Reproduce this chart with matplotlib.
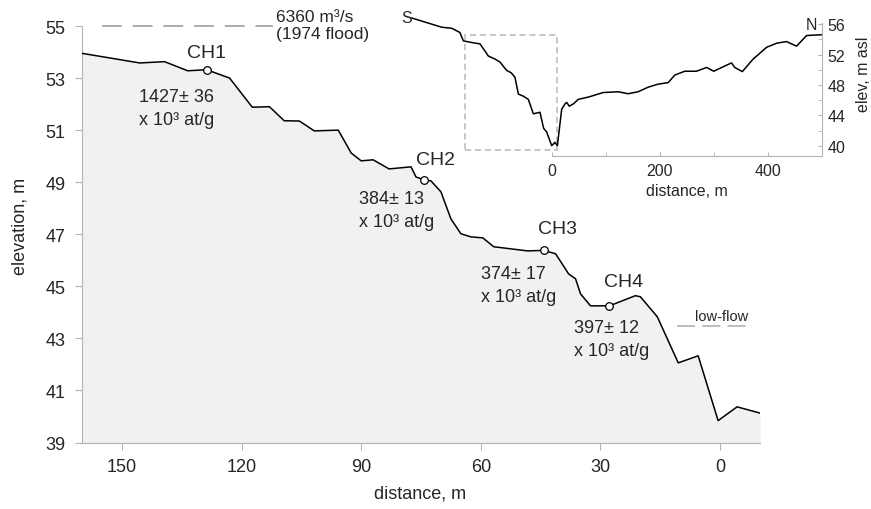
import numpy as np
import matplotlib
matplotlib.use('Agg')
import matplotlib.pyplot as plt
from matplotlib.patches import Rectangle

plt.rcParams.update({'font.family': 'Liberation Sans'})
plt.rcParams.update({'mathtext.fontset': 'custom'})
plt.rcParams.update({'mathtext.rm': 'Liberation Sans'})
plt.rcParams.update({'mathtext.it': 'Liberation Sans:italic'})

# main profile (distance from thalweg, m ; elevation, m)
dist_main = [160, 145.5, 139.3, 133.5, 128.75, 123, 117.3, 113, 109.3, 105.5, 101.75, 95.75,
             92.5, 90, 87, 83, 77.5, 76.25, 74.25, 72.5, 70, 67.5, 65, 62.5, 59.5, 56.75,
             52.5, 48.25, 44.25, 41.25, 38, 36.25, 35, 32.5, 27.75, 21.25, 20, 15.75, 10.5,
             5.5, 0.5, -4.25, -10]
elev_main = [53.95, 53.58, 53.63, 53.28, 53.32, 53.0, 51.88, 51.9, 51.36, 51.35, 50.97, 51.0,
             50.12, 49.82, 49.86, 49.51, 49.59, 49.2, 49.09, 49.05, 48.63, 47.59, 47.02, 46.9,
             46.86, 46.52, 46.44, 46.36, 46.38, 46.25, 45.48, 45.29, 44.71, 44.25, 44.25,
             44.64, 44.6, 43.83, 42.06, 42.33, 39.84, 40.37, 40.13]

# sample sites
ch_names = ['CH1', 'CH2', 'CH3', 'CH4']
ch_dist = [128.75, 74.25, 44.25, 27.75]
ch_elev = [53.32, 49.09, 46.38, 44.25]
ch_conc = [1427, 384, 374, 397]
ch_err = [36, 13, 17, 12]

flood_level = 55.0
lowflow_level = 43.47

# full cross section (inset)
dist_xs = [-259, -204, -185, -170, -163.6, -150, -132.8, -125, -117.3, -105, -95.7, -83.3, -75,
           -68, -61.8, -52, -43.3, -34, -21.7, -15, -9.3, 0, 6, 10.5, 18.5, 24.6, 27.7, 32.6,
           40, 49.3, 67.8, 95.5, 123, 141.6, 160, 178.6, 197, 215.6, 228, 246.5, 268, 287,
           300, 333, 339, 353, 373, 398, 417, 435, 453.5, 472, 499]
elev_xs = [56.8, 55.6, 55.45, 54.9, 53.8, 53.6, 53.4, 52.6, 51.8, 51.4, 51.0, 49.9, 49.6,
           49.0, 46.8, 46.5, 46.1, 44.2, 44.4, 42.3, 41.8, 40.0, 40.45, 40.0, 44.8, 45.5, 45.7,
           45.2, 45.5, 46.1, 46.4, 47.0, 47.1, 46.84, 47.1, 47.7, 48.1, 48.3, 49.3, 49.8, 49.8,
           50.3, 49.8, 50.9, 50.3, 49.75, 51.4, 52.95, 53.5, 53.7, 53.1, 54.5, 54.6]

txt = '#262626'
spc = '#b3b3b3'

fig = plt.figure(figsize=(8.71, 5.10), dpi=100)
ax = fig.add_axes([82/871, 1-443.5/510, 678/871, 416.5/510])

ax.fill_between(dist_main, elev_main, 39, color='#f0f1f3', lw=0, zorder=1)
ax.plot(dist_main, elev_main, color='k', lw=1.1, zorder=3)
ax.plot(ch_dist, ch_elev, 'o', ms=5.5, mfc='white', mec='k', mew=0.9, zorder=4)

# flood and low-flow lines
ax.plot([155, 112], [flood_level]*2, color='#a6a6a6', lw=1.3, linestyle=(0, (11, 6)), clip_on=False)
ax.text(111.3, 55.35, '6360 m\u00b3/s', fontsize=12.5, color=txt, ha='left', va='center')
ax.text(111.3, 54.72, '(1974 flood)', fontsize=12.5, color=txt, ha='left', va='center')
ax.plot([10.75, -6.75], [lowflow_level]*2, color='#b8b8b8', lw=1.3, linestyle=(0, (10, 4)))
ax.text(-0.4, 43.85, 'low-flow', fontsize=10.5, color=txt, ha='center', va='center')

lab_pos = [(128.75, 54.0), (71.25, 49.89), (40.75, 47.21), (24.25, 45.19)]
ann_pos = [(145.75, 52.29), (90.5, 48.36), (60, 45.5), (36.75, 43.4)]
for i in range(4):
    ax.text(lab_pos[i][0], lab_pos[i][1], ch_names[i], fontsize=14, color=txt, ha='center', va='center')
    x0, y0 = ann_pos[i]
    ax.text(x0, y0, '%d\u00b1 %d' % (ch_conc[i], ch_err[i]), fontsize=13, color=txt, ha='left', va='center')
    ax.text(x0, y0-0.88, 'x 10\u00b3 at/g', fontsize=13, color=txt, ha='left', va='center')

ax.set_xlim(160, -10)
ax.set_ylim(39, 55)
ax.set_xticks([150, 120, 90, 60, 30, 0])
ax.set_yticks(np.arange(39, 56, 2))
for s in ['top', 'right']:
    ax.spines[s].set_visible(False)
for s in ['left', 'bottom']:
    ax.spines[s].set_color(spc)
ax.tick_params(direction='out', length=5, color=spc, labelsize=13, labelcolor=txt)
ax.tick_params(axis='y', pad=7)
ax.tick_params(axis='x', pad=6)
fig.text(420/871, 1-494/510, 'distance, m', fontsize=13, color=txt, ha='center', va='center')
fig.text(20/871, 1-226/510, 'elevation, m', fontsize=13, color=txt, ha='center', va='center', rotation=90)

# inset
ai = fig.add_axes([411.3/871, 1-156.6/510, 410.4/871, 140.6/510])
ai.patch.set_visible(False)
ai.plot(dist_xs, elev_xs, color='k', lw=1.1)
ai.add_patch(Rectangle((-160, 39.43), 170, 54.6-39.43, fill=False, ec='#b8b8b8', lw=1.1,
                       linestyle=(0, (4, 2.5))))
ai.set_xlim(-260, 500)
ai.set_ylim(38.7, 57.2)
ai.spines['left'].set_visible(False)
ai.spines['top'].set_visible(False)
ai.spines['right'].set_color(spc)
ai.spines['bottom'].set_color(spc)
ai.spines['bottom'].set_bounds(0, 500)
ai.spines['right'].set_bounds(38.7, 56.2)
ai.set_xticks([0, 200, 400])
ai.set_xticks([100, 300, 500], minor=True)
ai.yaxis.tick_right()
ai.set_yticks([40, 44, 48, 52, 56])
ai.set_yticks([42, 46, 50, 54], minor=True)
ai.tick_params(which='both', direction='in', length=3, color=spc, labelsize=11.5, labelcolor=txt)
ai.tick_params(axis='x', pad=5)
ai.tick_params(axis='y', pad=4)
ai.text(-268.5, 56.93, 'S', fontsize=11.5, color=txt, ha='center', va='center')
ai.text(481, 55.9, 'N', fontsize=11.5, color=txt, ha='center', va='center')
fig.text(686.7/871, 1-191.7/510, 'distance, m', fontsize=11.5, color=txt, ha='center', va='center')
fig.text(863/871, 1-74/510, 'elev, m asl', fontsize=11.5, color=txt, ha='center', va='center', rotation=90)

plt.savefig('out.png', dpi=100)
